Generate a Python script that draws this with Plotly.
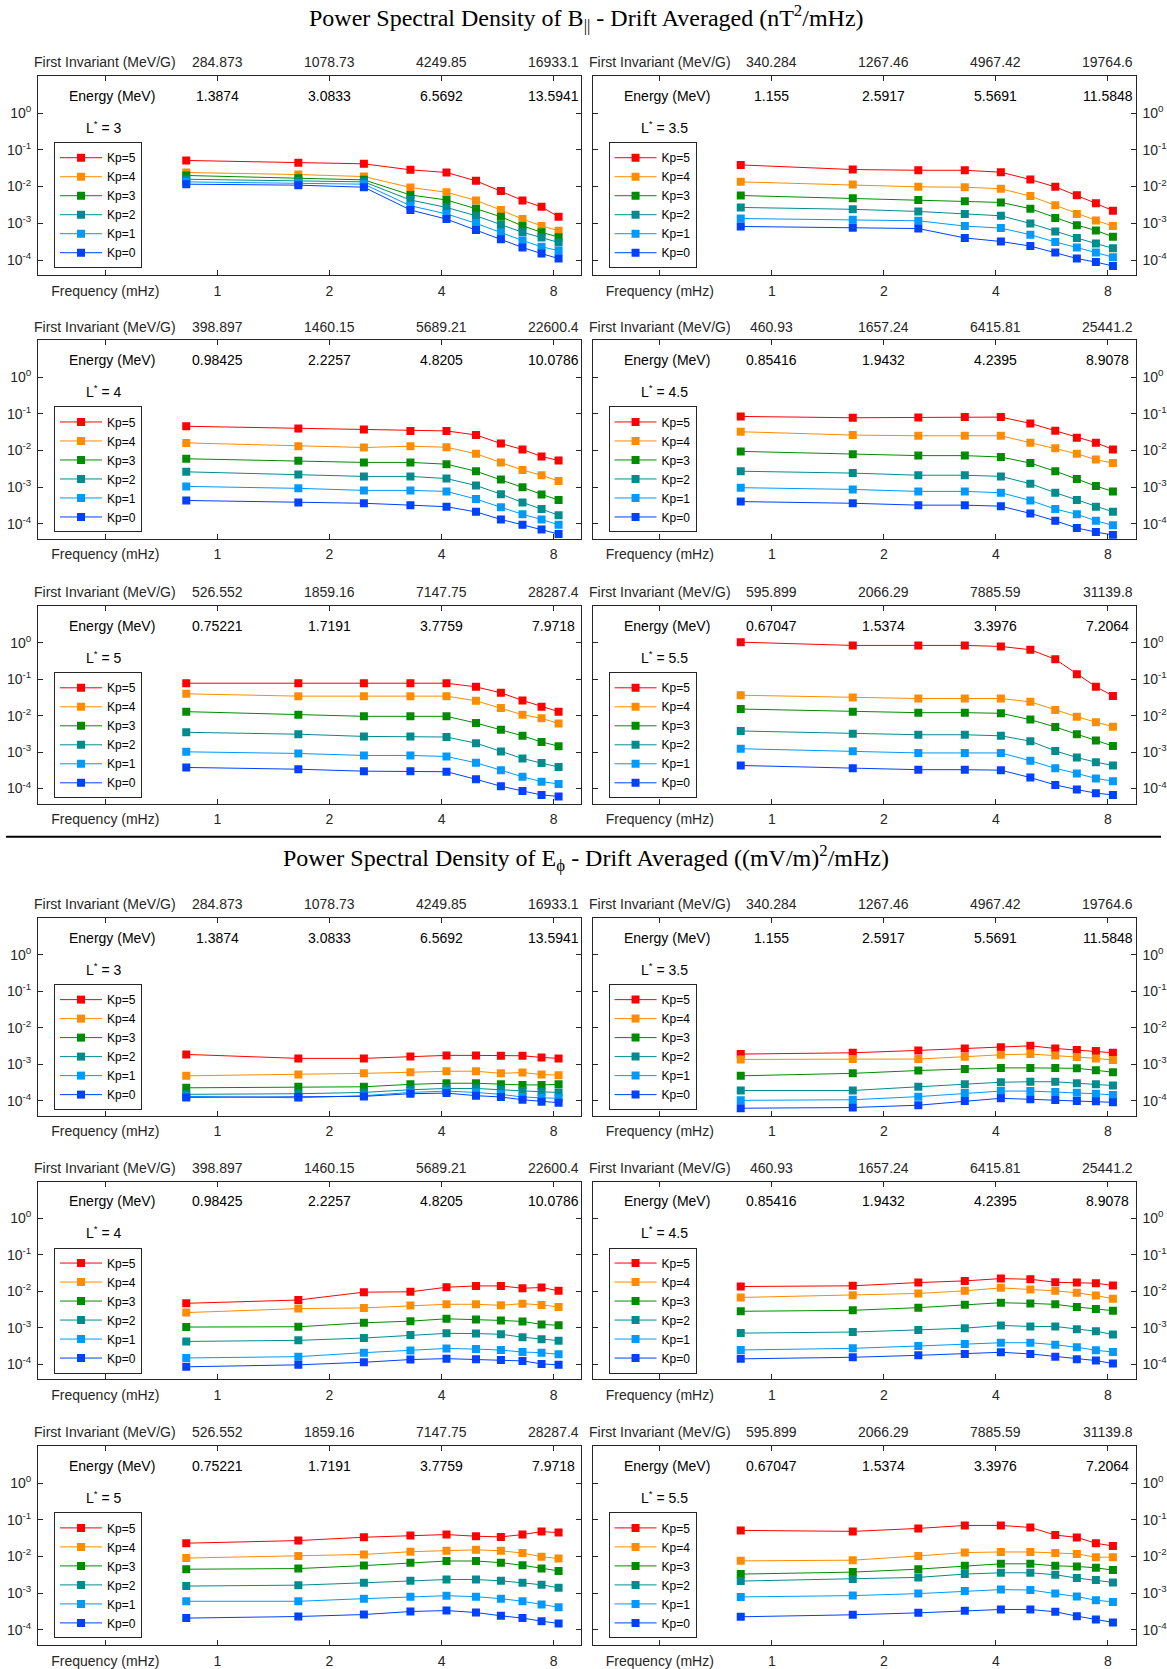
import math
import plotly.graph_objects as go

W, H = 1167, 1669

# ---------------- data ----------------
FREQ_MHZ = [0.825, 1.65, 2.475, 3.3, 4.125, 4.95, 5.775, 6.6, 7.425, 8.25]
KP_LABELS = ["Kp=5", "Kp=4", "Kp=3", "Kp=2", "Kp=1", "Kp=0"]
KP_COLORS = ["#ff0000", "#ff8c00", "#008c00", "#008c8c", "#0099ff", "#0040ff"]
L_STAR = ["3", "3.5", "4", "4.5", "5", "5.5"]

FREQ_TICKS = [0.5, 1, 2, 4, 8]
FREQ_TICK_TEXT = ["Frequency (mHz)", "1", "2", "4", "8"]
Y_TICKS = [1e-4, 1e-3, 1e-2, 1e-1, 1]
Y_TICK_TEXT = ["10<sup>-4</sup>", "10<sup>-3</sup>", "10<sup>-2</sup>", "10<sup>-1</sup>", "10<sup>0</sup>"]

MU_L3 = ["284.873", "1078.73", "4249.85", "16933.1"]
MU_L35 = ["340.284", "1267.46", "4967.42", "19764.6"]
MU_L4 = ["398.897", "1460.15", "5689.21", "22600.4"]
MU_L45 = ["460.93", "1657.24", "6415.81", "25441.2"]
MU_L5 = ["526.552", "1859.16", "7147.75", "28287.4"]
MU_L55 = ["595.899", "2066.29", "7885.59", "31139.8"]

EN_L3 = ["1.3874", "3.0833", "6.5692", "13.5941"]
EN_L35 = ["1.155", "2.5917", "5.5691", "11.5848"]
EN_L4 = ["0.98425", "2.2257", "4.8205", "10.0786"]
EN_L45 = ["0.85416", "1.9432", "4.2395", "8.9078"]
EN_L5 = ["0.75221", "1.7191", "3.7759", "7.9718"]
EN_L55 = ["0.67047", "1.5374", "3.3976", "7.2064"]

# rows: Kp=5, Kp=4, Kp=3, Kp=2, Kp=1, Kp=0
B_L3 = [
    [0.0512, 0.0442, 0.0415, 0.0285, 0.0241, 0.0143, 0.0076, 0.0042, 0.0028, 0.0015],
    [0.0241, 0.0212, 0.0187, 0.0094, 0.0070, 0.0042, 0.0023, 0.0013, 0.00085, 0.00063],
    [0.0200, 0.0169, 0.0152, 0.0059, 0.0043, 0.0025, 0.0015, 0.00085, 0.00057, 0.00042],
    [0.0158, 0.0143, 0.0134, 0.0043, 0.0027, 0.0016, 0.00090, 0.00057, 0.00041, 0.00030],
    [0.0134, 0.0123, 0.0116, 0.0030, 0.0018, 0.0010, 0.00056, 0.00034, 0.00023, 0.00018],
    [0.0116, 0.0109, 0.0096, 0.0023, 0.0013, 0.00066, 0.00037, 0.00022, 0.00015, 0.00011],
]
B_L35 = [
    [0.0387, 0.0290, 0.0277, 0.0277, 0.0245, 0.0155, 0.0098, 0.0058, 0.0035, 0.0022],
    [0.0134, 0.0113, 0.0098, 0.0096, 0.0087, 0.0055, 0.0031, 0.0018, 0.0012, 0.00084],
    [0.0057, 0.0048, 0.0043, 0.0040, 0.0037, 0.0025, 0.0014, 0.00089, 0.00064, 0.00043],
    [0.0027, 0.0024, 0.0021, 0.0018, 0.0016, 0.00099, 0.00060, 0.00040, 0.00028, 0.00021],
    [0.00135, 0.00124, 0.00117, 0.00084, 0.00074, 0.00049, 0.00031, 0.00022, 0.00016, 0.00012],
    [0.00082, 0.00076, 0.00072, 0.00040, 0.00032, 0.00024, 0.00016, 0.00011, 0.000088, 0.000069],
]
B_L4 = [
    [0.0455, 0.0394, 0.0370, 0.0340, 0.0340, 0.0264, 0.0154, 0.0106, 0.0068, 0.0053],
    [0.0160, 0.0130, 0.0120, 0.0130, 0.0122, 0.0081, 0.0047, 0.0029, 0.0021, 0.00145],
    [0.0059, 0.0052, 0.0047, 0.0047, 0.0042, 0.0027, 0.0016, 0.00098, 0.00063, 0.00044],
    [0.0026, 0.0022, 0.00195, 0.00195, 0.0017, 0.0011, 0.00064, 0.00038, 0.00025, 0.00017],
    [0.00104, 0.00092, 0.00081, 0.00081, 0.00076, 0.00047, 0.00028, 0.00018, 0.00013, 0.000093],
    [0.00043, 0.00038, 0.00036, 0.00032, 0.00029, 0.00021, 0.00013, 0.000093, 0.000069, 0.000052],
]
B_L45 = [
    [0.0845, 0.0778, 0.0794, 0.0811, 0.0811, 0.0545, 0.0344, 0.0221, 0.0162, 0.0106],
    [0.0323, 0.0262, 0.0251, 0.0251, 0.0251, 0.0162, 0.0114, 0.0081, 0.0056, 0.0045],
    [0.0094, 0.0079, 0.0072, 0.0072, 0.0066, 0.0045, 0.0027, 0.00165, 0.00106, 0.00076],
    [0.0027, 0.0024, 0.0021, 0.0021, 0.00195, 0.00123, 0.00070, 0.00044, 0.00029, 0.00021],
    [0.00096, 0.00086, 0.00076, 0.00076, 0.00070, 0.00043, 0.00025, 0.00018, 0.00012, 0.00009],
    [0.00040, 0.00036, 0.00032, 0.00032, 0.00030, 0.00019, 0.00012, 0.000076, 0.000059, 0.000049],
]
B_L5 = [
    [0.0778, 0.0778, 0.0778, 0.0778, 0.0778, 0.0618, 0.0424, 0.0262, 0.0176, 0.0129],
    [0.0398, 0.0344, 0.0344, 0.0344, 0.0344, 0.0256, 0.0162, 0.0106, 0.0085, 0.0061],
    [0.0129, 0.0106, 0.0096, 0.0096, 0.0096, 0.0063, 0.0041, 0.0028, 0.0019, 0.00146],
    [0.0035, 0.0031, 0.0027, 0.0027, 0.0026, 0.00176, 0.00104, 0.00067, 0.00050, 0.00039],
    [0.00102, 0.00092, 0.00081, 0.00081, 0.00076, 0.00051, 0.00032, 0.00021, 0.000155, 0.000134],
    [0.00038, 0.00034, 0.00030, 0.00030, 0.00029, 0.00018, 0.000116, 0.000086, 0.000067, 0.000061],
]
B_L55 = [
    [1.04, 0.847, 0.847, 0.847, 0.794, 0.646, 0.353, 0.138, 0.0625, 0.0349],
    [0.0364, 0.0315, 0.0296, 0.0296, 0.0296, 0.0240, 0.0143, 0.0094, 0.0066, 0.0050],
    [0.0152, 0.0129, 0.0121, 0.0121, 0.0116, 0.0078, 0.0049, 0.0031, 0.0021, 0.00147],
    [0.0038, 0.0032, 0.0030, 0.0030, 0.0028, 0.0020, 0.00108, 0.00071, 0.00053, 0.00043],
    [0.00124, 0.00105, 0.00095, 0.00095, 0.00095, 0.00058, 0.00036, 0.00026, 0.00019, 0.00016],
    [0.00043, 0.00036, 0.00033, 0.00033, 0.00032, 0.00020, 0.000126, 0.000094, 0.000075, 0.000067],
]

E_L3 = [
    [0.00185, 0.00144, 0.00144, 0.00163, 0.00174, 0.00174, 0.00170, 0.00170, 0.00153, 0.00144],
    [0.00048, 0.00052, 0.00056, 0.00060, 0.00064, 0.00064, 0.00056, 0.00059, 0.00052, 0.00050],
    [0.000225, 0.00024, 0.00024, 0.00028, 0.00030, 0.00030, 0.00028, 0.00027, 0.00027, 0.00028],
    [0.000149, 0.000155, 0.000168, 0.000199, 0.000216, 0.000216, 0.000199, 0.000183, 0.000175, 0.000168],
    [0.000131, 0.000120, 0.000137, 0.000168, 0.000183, 0.000168, 0.000149, 0.000126, 0.000120, 0.000116],
    [0.000123, 0.000126, 0.000131, 0.000155, 0.000161, 0.000137, 0.000126, 0.000106, 0.000094, 0.000088],
]
E_L35 = [
    [0.00189, 0.00205, 0.00238, 0.00269, 0.00292, 0.00318, 0.00269, 0.00243, 0.00228, 0.00205],
    [0.00135, 0.00138, 0.00138, 0.00160, 0.00181, 0.00189, 0.00174, 0.00157, 0.00144, 0.00130],
    [0.00048, 0.00056, 0.00067, 0.00074, 0.00079, 0.00079, 0.00079, 0.00077, 0.00068, 0.00060],
    [0.00019, 0.00019, 0.00024, 0.00028, 0.00032, 0.00033, 0.00033, 0.00030, 0.00028, 0.00026],
    [0.000102, 0.000106, 0.000129, 0.000161, 0.000183, 0.000183, 0.000172, 0.000165, 0.000155, 0.000143],
    [0.000062, 0.000065, 0.000075, 0.000098, 0.000116, 0.000109, 0.000104, 0.000098, 0.000096, 0.000090],
]
E_L4 = [
    [0.00465, 0.00571, 0.0094, 0.0096, 0.0128, 0.0139, 0.0139, 0.0120, 0.0126, 0.0102],
    [0.00259, 0.00333, 0.00348, 0.00402, 0.00437, 0.00437, 0.00410, 0.00455, 0.00419, 0.00370],
    [0.00104, 0.00106, 0.00136, 0.00151, 0.00175, 0.00168, 0.00158, 0.00148, 0.00123, 0.00116],
    [0.00042, 0.00045, 0.00052, 0.00063, 0.00070, 0.00069, 0.00066, 0.00055, 0.00048, 0.00044],
    [0.000148, 0.000161, 0.000207, 0.000239, 0.000270, 0.000259, 0.000244, 0.000215, 0.000207, 0.000186],
    [0.000085, 0.000096, 0.000113, 0.000134, 0.000142, 0.000136, 0.000131, 0.000123, 0.000102, 0.000096],
]
E_L45 = [
    [0.0134, 0.0140, 0.0172, 0.0191, 0.0221, 0.0212, 0.0175, 0.0172, 0.0165, 0.0143],
    [0.00673, 0.00778, 0.00865, 0.0102, 0.0123, 0.0111, 0.0102, 0.0090, 0.0076, 0.0062],
    [0.00281, 0.00299, 0.00353, 0.00426, 0.00482, 0.00462, 0.00435, 0.00368, 0.00324, 0.00292],
    [0.00071, 0.00076, 0.00087, 0.00097, 0.00115, 0.00108, 0.00108, 0.00091, 0.00080, 0.00065],
    [0.000245, 0.000272, 0.000315, 0.000356, 0.000387, 0.000387, 0.000342, 0.000290, 0.000240, 0.000216],
    [0.000140, 0.000155, 0.000175, 0.000191, 0.000212, 0.000191, 0.000161, 0.000137, 0.000126, 0.000104],
]
E_L5 = [
    [0.0229, 0.0270, 0.0333, 0.0370, 0.0394, 0.0355, 0.0340, 0.0394, 0.0474, 0.0446],
    [0.0090, 0.0102, 0.0113, 0.0134, 0.0142, 0.0151, 0.0142, 0.0123, 0.0098, 0.0087],
    [0.00446, 0.00465, 0.0056, 0.00675, 0.00748, 0.00748, 0.00675, 0.00571, 0.00465, 0.00402],
    [0.00155, 0.00164, 0.0019, 0.00215, 0.00234, 0.00234, 0.00215, 0.0019, 0.00168, 0.00139],
    [0.000596, 0.000596, 0.000703, 0.000796, 0.000847, 0.000796, 0.000703, 0.000596, 0.000484, 0.00041],
    [0.000207, 0.000229, 0.000259, 0.000313, 0.000333, 0.000294, 0.000239, 0.000207, 0.000171, 0.000148],
]
E_L55 = [
    [0.0512, 0.0481, 0.0579, 0.0698, 0.0698, 0.0617, 0.0382, 0.0330, 0.0228, 0.0192],
    [0.00755, 0.00787, 0.0103, 0.0127, 0.0132, 0.0132, 0.0124, 0.0117, 0.0095, 0.0095],
    [0.00329, 0.00372, 0.00449, 0.00553, 0.00627, 0.00627, 0.00553, 0.00531, 0.00488, 0.00422],
    [0.00212, 0.0024, 0.00267, 0.00329, 0.00357, 0.00357, 0.00316, 0.00256, 0.00226, 0.00195],
    [0.000783, 0.000851, 0.000964, 0.00114, 0.00124, 0.00121, 0.000964, 0.0008, 0.000637, 0.000573],
    [0.000225, 0.000255, 0.000288, 0.000327, 0.000356, 0.000356, 0.000308, 0.000234, 0.000191, 0.000158],
]

TITLE_B = "Power Spectral Density of B<sub>||</sub> - Drift Averaged (nT<sup>2</sup>/mHz)"
TITLE_E = "Power Spectral Density of E<sub>ϕ</sub> - Drift Averaged ((mV/m)<sup>2</sup>/mHz)"

# ---------------- layout geometry (pixels) ----------------
COL_X = [(38.3, 584.4), (595.7, 1141.6)]
ROW_Y = [(76.3, 275.3), (340.7, 539.0), (606.7, 804.0),
         (918.7, 1116.3), (1182.3, 1380.0), (1447.3, 1645.7)]

MU_BY_L = [MU_L3, MU_L35, MU_L4, MU_L45, MU_L5, MU_L55]
EN_BY_L = [EN_L3, EN_L35, EN_L4, EN_L45, EN_L5, EN_L55]
B_BY_L = [B_L3, B_L35, B_L4, B_L45, B_L5, B_L55]
E_BY_L = [E_L3, E_L35, E_L4, E_L45, E_L5, E_L55]

AX_COLOR = "#262626"
SANS = "Liberation Sans, Arial, Helvetica, sans-serif"
SERIF = "Liberation Serif, Times New Roman, serif"

fig = go.Figure()
layout = dict(
    width=W, height=H, autosize=False,
    margin=dict(l=0, r=0, t=0, b=0, pad=0),
    paper_bgcolor="white", plot_bgcolor="white",
    font=dict(family=SANS, size=14, color=AX_COLOR),
    showlegend=True,
)
annotations = []
shapes = []

def px_x(x):
    return x / W

def px_y(y):
    return 1 - y / H

for row in range(6):
    for col in range(2):
        n = row * 2 + 1 + col
        li = (row % 3) * 2 + col
        data = B_BY_L[li] if row < 3 else E_BY_L[li]
        x0, x1 = COL_X[col]
        y0, y1 = ROW_Y[row]
        xname = "x" if n == 1 else f"x{n}"
        yname = "y" if n == 1 else f"y{n}"
        lname = "legend" if n == 1 else f"legend{n}"

        for k in range(6):
            fig.add_trace(go.Scatter(
                x=FREQ_MHZ, y=data[k], mode="lines+markers",
                name=KP_LABELS[k],
                line=dict(color=KP_COLORS[k], width=1),
                marker=dict(symbol="square", size=8, color=KP_COLORS[k], line=dict(width=0)),
                xaxis=xname, yaxis=yname, legend=lname, showlegend=True,
            ))

        layout["xaxis" if n == 1 else f"xaxis{n}"] = dict(
            type="log", range=[math.log10(0.33), math.log10(9.5)],
            domain=[px_x(x0), px_x(x1)], anchor=yname,
            tickmode="array", tickvals=FREQ_TICKS, ticktext=FREQ_TICK_TEXT,
            ticks="inside", ticklen=5, tickwidth=1, tickcolor=AX_COLOR,
            showline=True, linecolor=AX_COLOR, linewidth=1, mirror="ticks",
            showgrid=False, zeroline=False,
            tickfont=dict(family=SANS, size=14, color=AX_COLOR),
            ticklabelstandoff=3,
        )
        layout["yaxis" if n == 1 else f"yaxis{n}"] = dict(
            type="log", range=[-4.41, 1.0],
            domain=[px_y(y1), px_y(y0)], anchor=xname,
            side="left" if col == 0 else "right",
            tickmode="array", tickvals=Y_TICKS, ticktext=Y_TICK_TEXT,
            ticks="inside", ticklen=5, tickwidth=1, tickcolor=AX_COLOR,
            showline=True, linecolor=AX_COLOR, linewidth=1, mirror="ticks",
            showgrid=False, zeroline=False,
            tickfont=dict(family=SANS, size=14, color=AX_COLOR),
            ticklabelstandoff=3,
        )
        layout[lname] = dict(
            x=px_x(x0 + 16), y=px_y(y0 + 66), xanchor="left", yanchor="top",
            xref="paper", yref="paper",
            bgcolor="white", bordercolor=AX_COLOR, borderwidth=1,
            font=dict(family=SANS, size=12, color="black"),
            itemwidth=42, tracegroupgap=0,
        )

        # first invariant row (above box) and energy row (inside box)
        top_texts = ["First Invariant (MeV/G)"] + MU_BY_L[li]
        en_texts = ["Energy (MeV)"] + EN_BY_L[li]
        for t, fv in enumerate(FREQ_TICKS):
            annotations.append(dict(
                x=math.log10(fv), xref=xname, y=px_y(y0 - 14), yref="paper",
                text=top_texts[t], showarrow=False, xanchor="center", yanchor="middle",
                font=dict(family=SANS, size=14, color=AX_COLOR),
            ))
            annotations.append(dict(
                x=math.log10(fv), xref=xname, y=px_y(y0 + 19.4), yref="paper",
                text=en_texts[t], showarrow=False, xanchor="center", yanchor="middle",
                xshift=7 if t == 0 else 0,
                font=dict(family=SANS, size=14, color="black"),
            ))
        annotations.append(dict(
            x=px_x(x0 + 46.5), xref="paper", y=px_y(y0 + 50.7), yref="paper",
            text=f"L<sup>*</sup> = {L_STAR[li]}", showarrow=False,
            xanchor="left", yanchor="middle",
            font=dict(family=SANS, size=14, color="black"),
        ))

annotations.append(dict(
    x=px_x(589.5), y=px_y(18), xref="paper", yref="paper", text=TITLE_B,
    showarrow=False, xanchor="center", yanchor="middle",
    font=dict(family=SERIF, size=24, color="black"),
))
annotations.append(dict(
    x=px_x(589.5), y=px_y(859), xref="paper", yref="paper", text=TITLE_E,
    showarrow=False, xanchor="center", yanchor="middle",
    font=dict(family=SERIF, size=24, color="black"),
))
shapes.append(dict(
    type="line", xref="paper", yref="paper",
    x0=px_x(6), x1=1.0, y0=px_y(837.3), y1=px_y(837.3),
    line=dict(color="black", width=2),
))

layout["annotations"] = annotations
layout["shapes"] = shapes
fig.update_layout(**layout)
fig.write_html("out.html")
